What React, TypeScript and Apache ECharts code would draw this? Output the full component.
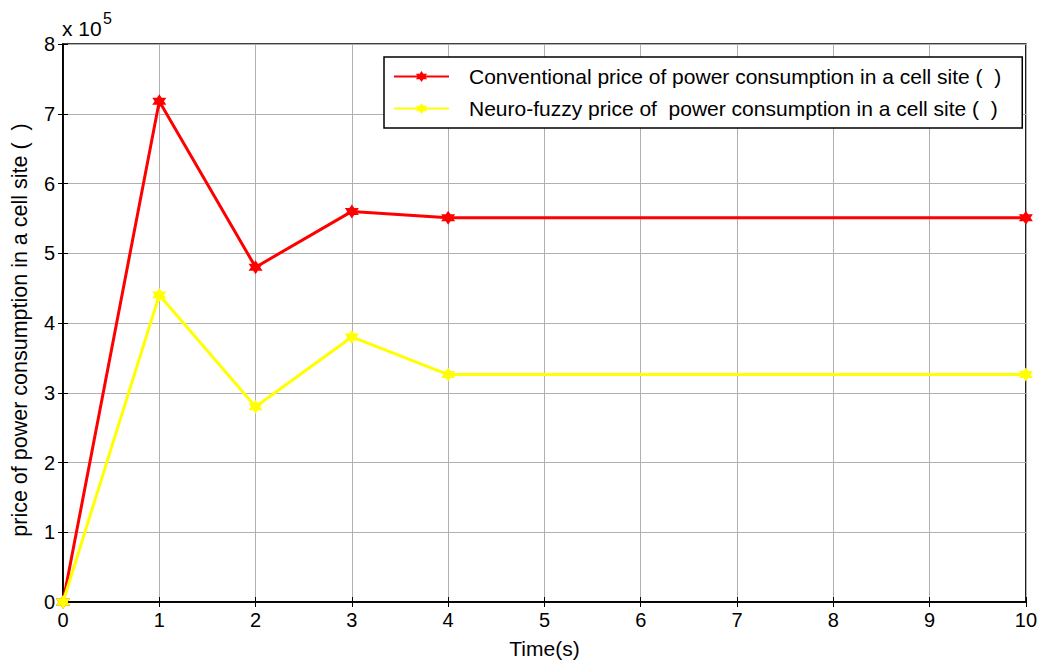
import React, { useEffect, useRef } from "react";
import * as echarts from "echarts";

const timeValues = [0, 1, 2, 3, 4, 10];
const conventional = [0, 718000, 480000, 560000, 551000, 551000];
const neuroFuzzy = [0, 440000, 280000, 380000, 326000, 326000];
const xTicks = [0, 1, 2, 3, 4, 5, 6, 7, 8, 9, 10];
const yTicks = [0, 1, 2, 3, 4, 5, 6, 7, 8];

const seriesNames = [
  "Conventional price of power consumption in a cell site (  )",
  "Neuro-fuzzy price of  power consumption in a cell site (  )",
];

const hexagram =
  "path://M0 -100 L29 -50 L87 -50 L58 0 L87 50 L29 50 L0 100 L-29 50 L-87 50 L-58 0 L-87 -50 L-29 -50 Z";

const FONT = "Liberation Sans, Arial, sans-serif";

export default function App() {
  const ref = useRef<HTMLDivElement>(null);
  useEffect(() => {
    if (!ref.current) return;
    const chart = echarts.init(ref.current, undefined, { renderer: "svg" });
    const pairs = (ys: number[]) => timeValues.map((t, i) => [t, ys[i]]);
    chart.setOption({
      animation: false,
      backgroundColor: "#ffffff",
      textStyle: { fontFamily: FONT },
      grid: {
        left: 63,
        right: 11,
        top: 44,
        bottom: 61,
        show: true,
        borderColor: "#000",
        borderWidth: 1.5,
        backgroundColor: "#fff",
      },
      xAxis: [
        {
          type: "value",
          min: 0,
          max: 10,
          interval: 1,
          name: "Time(s)",
          nameLocation: "middle",
          nameGap: 36,
          nameTextStyle: { fontSize: 21, color: "#000", fontFamily: FONT },
          axisLine: { show: true, lineStyle: { color: "#000", width: 1.5 } },
          axisTick: { show: true, inside: true, length: 5, lineStyle: { color: "#000" } },
          axisLabel: {
            fontSize: 20,
            color: "#000",
            margin: 8,
            fontFamily: FONT,
            formatter: (v: number) => String(xTicks[Math.round(v)]),
          },
          splitLine: { show: true, lineStyle: { color: "#b0b0b0", width: 1 } },
        },
        {
          type: "value",
          position: "top",
          min: 0,
          max: 10,
          interval: 1,
          axisLine: { show: true, lineStyle: { color: "#000", width: 1.5 } },
          axisTick: { show: true, inside: true, length: 5, lineStyle: { color: "#000" } },
          axisLabel: { show: false },
          splitLine: { show: false },
        },
      ],
      yAxis: [
        {
          type: "value",
          min: 0,
          max: 800000,
          interval: 100000,
          name: "price of power consumption in a cell site (  )",
          nameLocation: "middle",
          nameGap: 32,
          nameTextStyle: {
            fontSize: 21.5,
            color: "#000",
            fontFamily: FONT,
            padding: [0, 14, 0, 0],
          },
          axisLine: { show: true, lineStyle: { color: "#000", width: 1.5 } },
          axisTick: { show: true, inside: true, length: 5, lineStyle: { color: "#000" } },
          axisLabel: {
            fontSize: 20,
            color: "#000",
            margin: 8,
            fontFamily: FONT,
            formatter: (v: number) => String(yTicks[Math.round(v / 100000)]),
          },
          splitLine: { show: true, lineStyle: { color: "#b0b0b0", width: 1 } },
        },
        {
          type: "value",
          position: "right",
          min: 0,
          max: 800000,
          interval: 100000,
          axisLine: { show: true, lineStyle: { color: "#000", width: 1.5 } },
          axisTick: { show: true, inside: true, length: 5, lineStyle: { color: "#000" } },
          axisLabel: { show: false },
          splitLine: { show: false },
        },
      ],
      legend: {
        orient: "vertical",
        left: 384,
        top: 57,
        backgroundColor: "#fff",
        borderColor: "#000",
        borderWidth: 1.5,
        borderRadius: 0,
        padding: [9, 21, 9, 9],
        itemGap: 11,
        itemWidth: 55,
        itemHeight: 14,
        textStyle: {
          fontSize: 21,
          color: "#000",
          fontFamily: FONT,
          lineHeight: 20,
          padding: [0, 0, 0, 15],
        },
        data: seriesNames,
      },
      graphic: [
        {
          type: "text",
          left: 62,
          top: 18,
          style: { text: "x 10", fontSize: 21, fontFamily: FONT, fill: "#000" },
        },
        {
          type: "text",
          left: 103,
          top: 10,
          style: { text: "5", fontSize: 16, fontFamily: FONT, fill: "#000" },
        },
      ],
      series: [
        {
          name: seriesNames[0],
          type: "line",
          data: pairs(conventional),
          symbol: hexagram,
          symbolSize: 14,
          showAllSymbol: true,
          color: "#ff0000",
          lineStyle: { color: "#ff0000", width: 3 },
          itemStyle: { color: "#ff0000" },
          z: 3,
        },
        {
          name: seriesNames[1],
          type: "line",
          data: pairs(neuroFuzzy),
          symbol: hexagram,
          symbolSize: 14,
          showAllSymbol: true,
          color: "#ffff00",
          lineStyle: { color: "#ffff00", width: 3 },
          itemStyle: { color: "#ffff00" },
          z: 4,
        },
      ],
    });
    return () => chart.dispose();
  }, []);
  return (
    <div
      ref={ref}
      style={{ position: "absolute", left: 0, top: 0, width: 1040, height: 664 }}
    />
  );
}
